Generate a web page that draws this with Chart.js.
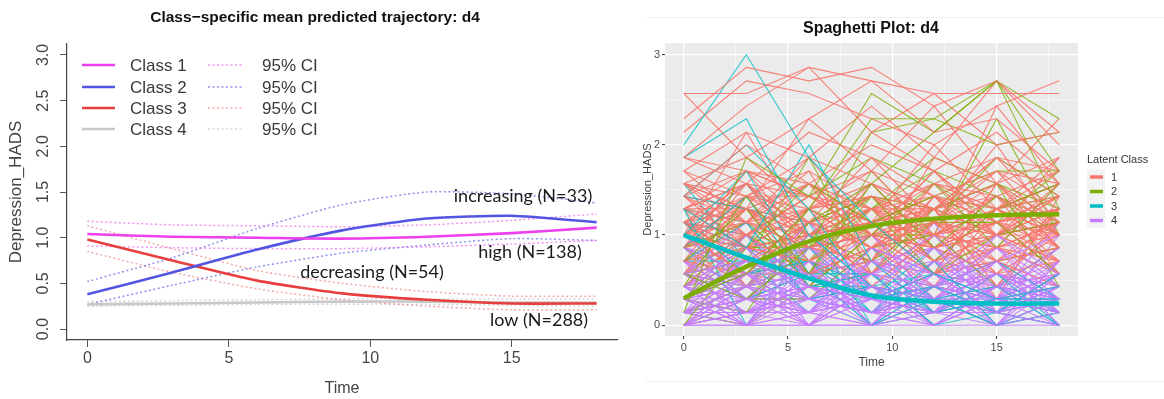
<!DOCTYPE html>
<html><head><meta charset="utf-8">
<script src="https://cdn.jsdelivr.net/npm/chart.js@4.4.1/dist/chart.umd.min.js"></script>
<style>
html,body{margin:0;padding:0;background:#fff;width:1164px;height:399px;overflow:hidden}
#c1{position:absolute;left:0;top:0}
#c2{position:absolute;left:620px;top:0}
</style></head><body>
<canvas id="c1" width="620" height="399"></canvas>
<canvas id="c2" width="544" height="399"></canvas>
<script>
// ---------- shared ----------
const time = [0, 3, 6, 9, 12, 15, 18];

// ---------- left panel: class-specific mean predicted trajectories ----------
const leftTitle = 'Class\u2212specific mean predicted trajectory: d4';
const leftXTicks = [0, 5, 10, 15];
const leftYTicks = [0, 0.5, 1, 1.5, 2, 2.5, 3];
const classNames = ['Class 1', 'Class 2', 'Class 3', 'Class 4'];
const ciName = '95% CI';

const class1Mean = [1.04, 1.01, 1.00, 0.99, 1.01, 1.05, 1.11];
const class1Lo   = [0.91, 0.89, 0.88, 0.88, 0.90, 0.93, 0.97];
const class1Hi   = [1.18, 1.14, 1.13, 1.12, 1.14, 1.19, 1.26];
const class2Mean = [0.38, 0.62, 0.87, 1.08, 1.21, 1.24, 1.17];
const class2Lo   = [0.27, 0.48, 0.68, 0.83, 0.92, 0.99, 0.97];
const class2Hi   = [0.52, 0.78, 1.10, 1.36, 1.50, 1.48, 1.38];
const class3Mean = [0.98, 0.75, 0.53, 0.39, 0.32, 0.28, 0.28];
const class3Lo   = [0.85, 0.62, 0.44, 0.32, 0.25, 0.21, 0.21];
const class3Hi   = [1.13, 0.88, 0.64, 0.50, 0.41, 0.36, 0.36];
const class4Mean = [0.27, 0.28, 0.29, 0.30, 0.30, 0.29, 0.29];
const class4Lo   = [0.25, 0.26, 0.27, 0.27, 0.27, 0.26, 0.25];
const class4Hi   = [0.30, 0.31, 0.32, 0.33, 0.33, 0.33, 0.33];

const annotLabels = ['increasing (N=33)', 'high (N=138)', 'decreasing (N=54)', 'low (N=288)'];

// ---------- right panel: spaghetti plot ----------
const rightTitle = 'Spaghetti Plot: d4';
const rightXTicks = [0, 2.5, 5, 7.5, 10, 12.5, 15, 17.5];
const rightYTicks = [0, 0.5, 1, 1.5, 2, 2.5, 3];
const latentLabels = ['1', '2', '3', '4'];

const spagClass1 = [
  [2.57, 2.57, 2.86, 2.71, 2.57, 2.57, 2.57],
  [2.29, 2.86, 2.71, 2.86, 2.43, 2.71, 2.14],
  [2.14, 2.71, 2.57, 2.29, 2.00, 2.43, 2.71],
  [1.86, 2.43, 2.86, 2.14, 2.57, 2.00, 2.14],
  [2.57, 1.86, 2.29, 2.71, 2.14, 2.29, 1.71],
  [1.71, 2.14, 1.86, 2.43, 1.86, 2.71, 2.00],
  [1.57, 1.29, 2.29, 1.71, 2.43, 1.57, 1.86],
  [1.43, 2.00, 1.57, 2.00, 1.71, 2.14, 1.57],
  [1.86, 1.57, 1.14, 1.86, 1.43, 1.71, 1.29],
  [1.29, 1.71, 1.43, 1.14, 2.00, 1.29, 1.43],
  [1.14, 1.43, 1.86, 1.57, 1.29, 1.86, 1.14],
  [1.57, 1.00, 1.29, 1.43, 1.14, 1.00, 1.57],
  [1.00, 1.57, 1.00, 1.29, 1.57, 1.43, 1.00],
  [1.43, 1.14, 1.57, 1.00, 0.86, 1.14, 1.29],
  [0.86, 1.29, 1.14, 0.86, 1.29, 1.57, 0.86],
  [1.29, 0.86, 0.71, 1.14, 1.00, 0.86, 1.14],
  [1.00, 1.14, 0.86, 0.71, 1.43, 1.29, 1.71],
  [0.71, 1.00, 1.43, 1.29, 0.71, 1.00, 1.00],
  [1.14, 0.71, 1.00, 0.57, 1.14, 0.71, 0.86],
  [0.57, 1.29, 0.86, 1.00, 0.57, 1.14, 1.43],
  [1.00, 0.57, 1.14, 1.57, 0.86, 0.57, 0.71],
  [0.86, 1.43, 0.57, 0.86, 1.14, 1.71, 1.00],
  [1.43, 0.86, 1.00, 1.14, 0.57, 0.86, 1.57],
  [0.71, 0.57, 1.29, 0.43, 1.00, 1.43, 0.57],
  [1.14, 1.57, 0.71, 1.00, 1.29, 0.57, 1.29],
  [0.43, 1.00, 0.57, 1.29, 0.86, 1.00, 0.71],
  [1.29, 1.14, 1.71, 0.57, 1.43, 0.86, 1.14],
  [1.57, 1.86, 1.29, 1.71, 1.00, 1.29, 0.86],
  [0.57, 0.71, 1.14, 0.86, 0.43, 1.29, 1.00],
  [1.00, 1.29, 0.43, 1.00, 1.71, 1.14, 0.57],
  [0.86, 0.43, 1.00, 1.43, 1.29, 0.43, 1.29],
  [1.71, 1.43, 1.14, 0.86, 1.57, 1.86, 1.43],
  [1.29, 1.57, 2.14, 1.86, 1.14, 1.43, 1.71],
  [0.71, 1.14, 1.57, 1.14, 0.71, 1.00, 1.86],
  [1.14, 0.86, 1.29, 2.14, 1.71, 1.00, 1.14],
  [0.43, 0.86, 0.71, 0.57, 1.00, 0.71, 0.43],
  [1.00, 2.14, 1.00, 1.43, 1.00, 2.43, 1.57],
  [1.43, 1.00, 0.57, 0.71, 1.86, 1.57, 2.29],
  [0.86, 1.71, 1.43, 1.00, 0.29, 0.86, 1.14],
  [1.57, 1.29, 1.00, 1.57, 1.14, 2.00, 1.00],
  [1.29, 0.43, 0.86, 1.29, 0.71, 1.29, 0.71],
  [1.00, 0.86, 1.29, 0.86, 1.29, 0.29, 1.43],
  [0.57, 1.43, 1.00, 0.29, 1.00, 1.14, 0.57],
  [1.14, 1.00, 0.43, 1.14, 0.57, 1.57, 0.86],
  [0.86, 1.14, 1.86, 1.00, 1.14, 0.71, 1.29],
  [1.14, 1.29, 1.00, 1.14, 1.29, 1.00, 1.14],
  [0.86, 1.00, 1.14, 1.29, 1.00, 1.14, 1.29],
  [1.29, 1.00, 1.43, 1.00, 0.86, 1.29, 1.00],
  [1.00, 1.43, 1.29, 0.86, 1.14, 1.00, 1.43],
  [0.71, 0.86, 1.00, 1.14, 1.43, 1.14, 0.86],
  [1.43, 1.29, 0.86, 1.29, 1.00, 1.43, 1.14],
  [1.14, 0.71, 1.14, 1.43, 0.71, 0.86, 1.00],
  [0.57, 1.00, 0.86, 0.71, 1.29, 1.00, 1.29],
  [1.29, 1.57, 1.43, 1.14, 1.57, 1.29, 1.57],
  [1.00, 0.86, 0.71, 1.00, 0.57, 0.71, 0.86],
  [1.57, 1.43, 1.71, 1.29, 1.43, 1.14, 1.00],
  [0.86, 1.14, 1.00, 0.57, 1.14, 1.57, 1.14],
  [1.14, 1.57, 0.86, 1.14, 1.00, 0.86, 0.71],
  [1.71, 1.14, 1.29, 1.57, 1.29, 1.71, 1.57],
  [0.43, 0.71, 1.14, 1.00, 0.86, 1.14, 1.29],
  [1.00, 1.00, 1.57, 1.29, 1.14, 0.57, 1.00],
  [1.29, 0.86, 1.00, 0.71, 1.57, 1.00, 0.71],
  [0.71, 1.29, 0.57, 1.14, 0.71, 1.29, 1.57],
  [1.43, 1.71, 1.14, 1.43, 0.86, 1.00, 1.29],
  [1.00, 0.57, 1.29, 0.86, 1.29, 1.43, 0.86],
  [0.86, 1.43, 1.43, 1.71, 1.43, 0.71, 1.14],
  [1.14, 1.00, 0.57, 0.86, 1.00, 1.29, 1.86],
  [0.57, 0.86, 1.29, 1.43, 1.14, 0.86, 0.57],
  [1.57, 1.14, 0.86, 1.00, 1.71, 1.14, 1.43],
  [1.29, 1.29, 1.57, 0.71, 0.57, 1.57, 1.00],
  [0.71, 1.57, 1.00, 1.29, 1.29, 0.43, 1.14],
  [1.00, 1.29, 0.71, 1.57, 0.86, 1.14, 0.71],
  [1.86, 1.71, 1.57, 1.14, 1.29, 1.86, 1.71],
  [1.14, 0.43, 1.14, 0.57, 1.43, 1.00, 1.43],
  [0.86, 1.71, 0.86, 1.00, 1.00, 1.29, 0.86]
];
const spagClass2 = [
  [0.29, 0.57, 1.29, 2.29, 2.29, 2.71, 2.29],
  [0.14, 1.86, 1.43, 2.57, 2.14, 2.71, 1.71],
  [0.57, 0.29, 0.86, 2.14, 2.29, 2.00, 2.14],
  [0.43, 1.43, 0.57, 1.57, 2.14, 2.71, 1.29],
  [0.00, 0.86, 1.57, 1.14, 1.43, 1.71, 1.71],
  [0.29, 0.14, 1.14, 1.57, 0.86, 1.43, 1.00],
  [0.71, 1.29, 0.43, 1.00, 1.57, 0.86, 1.57],
  [0.14, 0.43, 1.00, 0.71, 1.14, 1.14, 0.57],
  [0.43, 1.00, 0.71, 1.29, 0.57, 1.00, 1.14],
  [0.00, 0.29, 0.29, 0.86, 1.00, 0.43, 0.86],
  [0.57, 0.71, 1.86, 0.57, 1.29, 1.57, 0.43],
  [0.29, 0.57, 0.86, 1.43, 0.71, 1.29, 1.43],
  [0.86, 1.14, 0.57, 1.71, 1.00, 2.29, 1.00],
  [0.14, 0.00, 0.43, 0.57, 0.43, 0.71, 0.86],
  [0.43, 0.57, 1.14, 1.43, 1.29, 1.57, 1.29],
  [0.14, 0.43, 0.71, 1.14, 1.43, 1.29, 1.57],
  [0.29, 0.86, 1.00, 1.29, 1.71, 1.43, 1.14],
  [0.57, 0.43, 1.29, 1.00, 1.14, 1.86, 1.43],
  [0.00, 0.57, 0.57, 1.43, 1.29, 1.00, 1.29],
  [0.29, 1.00, 1.43, 1.86, 1.57, 1.14, 1.71],
  [0.71, 0.86, 0.86, 1.29, 1.86, 1.57, 1.14],
  [0.14, 0.29, 1.00, 1.00, 1.00, 1.29, 1.57]
];
const spagClass3 = [
  [2.00, 3.00, 1.86, 1.14, 0.57, 0.29, 0.43],
  [1.86, 2.29, 1.00, 0.43, 0.29, 0.00, 0.14],
  [1.43, 2.00, 1.29, 0.29, 0.43, 0.14, 0.00],
  [1.29, 0.86, 2.00, 0.71, 0.14, 0.29, 0.29],
  [1.00, 1.71, 0.57, 0.00, 0.29, 0.43, 0.14],
  [0.86, 1.43, 0.43, 0.57, 0.00, 0.14, 0.57],
  [1.14, 0.57, 0.71, 0.14, 0.71, 0.00, 0.29],
  [0.71, 1.14, 0.29, 0.43, 0.14, 0.57, 0.00],
  [1.29, 0.00, 0.86, 0.29, 0.57, 0.29, 0.43],
  [0.57, 0.71, 0.14, 0.86, 0.29, 0.00, 0.14],
  [1.43, 1.29, 1.14, 0.00, 0.43, 0.71, 0.29],
  [0.86, 0.29, 0.57, 0.57, 0.00, 0.43, 0.00],
  [1.00, 1.57, 0.71, 0.29, 0.86, 0.14, 0.57],
  [1.14, 0.86, 0.29, 0.14, 0.29, 0.29, 0.14],
  [1.00, 0.86, 0.57, 0.29, 0.14, 0.29, 0.29],
  [1.14, 1.00, 0.43, 0.43, 0.29, 0.14, 0.29],
  [0.86, 0.57, 0.86, 0.14, 0.43, 0.29, 0.14],
  [1.29, 1.14, 0.57, 0.57, 0.14, 0.43, 0.29],
  [0.71, 0.71, 0.43, 0.29, 0.29, 0.14, 0.43],
  [1.57, 0.71, 0.71, 0.43, 0.57, 0.29, 0.29],
  [0.57, 1.00, 0.29, 0.00, 0.14, 0.57, 0.14],
  [1.00, 0.43, 0.57, 0.71, 0.29, 0.00, 0.29]
];
const spagClass4 = [
  [0.00, 0.14, 0.00, 0.29, 0.14, 0.00, 0.14],
  [0.14, 0.43, 0.29, 0.14, 0.00, 0.29, 0.43],
  [0.29, 0.00, 0.57, 0.43, 0.29, 0.14, 0.00],
  [0.43, 0.29, 0.14, 0.57, 0.43, 0.57, 0.29],
  [0.57, 0.71, 0.43, 0.00, 0.57, 0.29, 0.14],
  [0.14, 0.57, 0.86, 0.29, 0.14, 0.43, 0.57],
  [0.29, 0.14, 0.29, 0.71, 0.29, 0.86, 0.29],
  [0.00, 0.29, 0.43, 0.14, 0.86, 0.14, 0.43],
  [0.43, 0.86, 0.00, 0.43, 0.29, 0.00, 0.71],
  [0.71, 0.29, 0.14, 0.29, 0.00, 0.43, 0.14],
  [0.14, 0.00, 0.71, 0.57, 0.43, 0.71, 0.00],
  [0.29, 0.57, 0.29, 0.00, 0.71, 0.29, 0.86],
  [0.57, 0.43, 1.00, 0.43, 0.14, 0.57, 0.29],
  [0.00, 0.14, 0.14, 0.86, 0.57, 0.00, 0.29],
  [0.86, 0.57, 0.57, 0.29, 0.43, 1.00, 0.57],
  [0.29, 1.00, 0.43, 0.14, 0.29, 0.14, 0.00],
  [0.43, 0.00, 0.29, 0.57, 1.00, 0.29, 0.43],
  [0.14, 0.29, 0.71, 0.00, 0.14, 0.71, 1.00],
  [0.00, 0.57, 0.14, 0.43, 0.00, 0.43, 0.14],
  [1.00, 0.43, 0.00, 0.71, 0.57, 0.14, 0.71],
  [0.29, 0.71, 0.57, 1.00, 0.29, 0.57, 0.29],
  [0.57, 0.14, 0.43, 0.29, 0.71, 0.00, 0.57],
  [0.14, 0.86, 0.29, 0.14, 0.43, 0.86, 0.14],
  [0.71, 0.00, 0.86, 0.57, 0.00, 0.29, 0.43],
  [0.00, 0.29, 0.00, 0.00, 0.29, 0.14, 0.00],
  [0.43, 0.57, 0.14, 0.86, 0.57, 0.43, 0.86],
  [0.29, 0.43, 1.14, 0.43, 0.86, 0.29, 0.14],
  [0.86, 0.29, 0.43, 0.14, 0.14, 0.57, 0.29],
  [0.14, 0.14, 0.57, 0.29, 0.43, 0.00, 0.71],
  [0.57, 1.14, 0.29, 0.57, 0.29, 0.71, 0.00],
  [0.00, 0.43, 0.71, 0.00, 0.71, 0.43, 0.29],
  [0.29, 0.00, 0.14, 0.71, 0.14, 1.00, 0.43],
  [0.43, 0.71, 0.43, 0.29, 1.14, 0.14, 0.57],
  [0.71, 0.57, 0.00, 0.43, 0.00, 0.29, 1.14],
  [0.14, 0.29, 0.86, 1.00, 0.43, 0.57, 0.14],
  [1.14, 0.86, 0.57, 0.14, 0.57, 0.86, 0.43],
  [0.29, 0.14, 0.29, 0.57, 0.86, 0.43, 0.86],
  [0.00, 0.00, 0.43, 0.14, 0.29, 0.29, 0.00],
  [0.00, 0.00, 0.00, 0.00, 0.00, 0.00, 0.00],
  [0.14, 0.14, 0.29, 0.14, 0.14, 0.29, 0.14],
  [0.29, 0.29, 0.14, 0.29, 0.43, 0.29, 0.29],
  [0.43, 0.14, 0.43, 0.29, 0.14, 0.43, 0.57],
  [0.00, 0.29, 0.14, 0.00, 0.29, 0.00, 0.29],
  [0.57, 0.29, 0.29, 0.43, 0.29, 0.57, 0.43],
  [0.14, 0.43, 0.00, 0.29, 0.57, 0.14, 0.00],
  [0.29, 0.57, 0.43, 0.14, 0.00, 0.29, 0.14],
  [0.71, 0.43, 0.57, 0.29, 0.43, 0.14, 0.29],
  [0.00, 0.14, 0.29, 0.43, 0.29, 0.57, 0.29],
  [0.43, 0.29, 0.57, 0.71, 0.43, 0.29, 0.57],
  [0.14, 0.00, 0.14, 0.00, 0.14, 0.14, 0.43],
  [0.29, 0.43, 0.29, 0.57, 0.00, 0.43, 0.29],
  [0.57, 0.14, 0.71, 0.29, 0.29, 0.00, 0.14],
  [0.00, 0.57, 0.29, 0.14, 0.43, 0.29, 0.71],
  [0.86, 0.71, 0.43, 0.57, 0.71, 0.57, 0.43],
  [0.29, 0.00, 0.00, 0.43, 0.14, 0.71, 0.29],
  [0.43, 0.86, 0.29, 0.29, 0.57, 0.43, 0.00],
  [0.14, 0.29, 0.57, 0.14, 0.71, 0.29, 0.57],
  [0.00, 0.14, 0.43, 0.57, 0.29, 0.14, 0.29],
  [0.57, 0.43, 0.14, 0.29, 0.14, 0.43, 0.86],
  [0.29, 0.71, 0.86, 0.43, 0.29, 0.00, 0.43],
  [0.71, 0.29, 0.29, 0.86, 0.57, 0.71, 0.14],
  [0.14, 0.57, 0.14, 0.71, 0.86, 0.57, 0.29],
  [0.43, 0.00, 0.57, 0.00, 0.43, 0.86, 0.57],
  [1.00, 0.57, 0.71, 0.43, 0.29, 0.43, 0.29],
  [0.29, 0.14, 0.43, 0.29, 0.57, 0.14, 1.00],
  [0.00, 0.43, 0.57, 0.86, 0.14, 0.29, 0.14],
  [0.57, 1.00, 0.29, 0.14, 0.43, 0.71, 0.43],
  [0.14, 0.29, 0.00, 0.57, 1.00, 0.43, 0.71]
];
const spagMean2 = [0.30, 0.65, 0.93, 1.10, 1.18, 1.22, 1.23];
const spagMean3 = [1.00, 0.75, 0.52, 0.33, 0.26, 0.24, 0.24];

// ---------- helpers ----------
const pts = v => v.map((y, i) => ({ x: time[i], y }));
const F = 'Liberation Sans, Arial, sans-serif';

// ===== LEFT CHART =====
// (Chart.js draws lower "order" values on top)
const lCol = ['rgb(236,64,236)', 'rgb(84,84,226)', 'rgb(232,62,62)', 'rgb(200,200,200)'];
const lCi  = ['rgba(240,110,240,0.75)', 'rgba(110,110,236,0.75)', 'rgba(240,110,110,0.6)', 'rgba(205,205,205,0.8)'];
const means = [class1Mean, class2Mean, class3Mean, class4Mean];
const los = [class1Lo, class2Lo, class3Lo, class4Lo];
const his = [class1Hi, class2Hi, class3Hi, class4Hi];

const leftSets = [];
[0, 1, 2, 3].forEach(k => {
  leftSets.push({ label: ciName, data: pts(los[k]), borderColor: lCi[k], borderWidth: 1.5, borderDash: [2, 2.5], tension: 0.2, order: 10 + k });
  leftSets.push({ label: ciName, data: pts(his[k]), borderColor: lCi[k], borderWidth: 1.5, borderDash: [2, 2.5], tension: 0.2, order: 10 + k });
  leftSets.push({ label: classNames[k], data: pts(means[k]), borderColor: lCol[k], borderWidth: 2.6, tension: 0.2, order: k });
});

const leftDecor = {
  id: 'leftDecor',
  afterDraw(chart) {
    const ctx = chart.ctx;
    ctx.save();
    ctx.fillStyle = '#111';
    ctx.font = 'bold 15.5px ' + F;
    ctx.textAlign = 'center'; ctx.textBaseline = 'middle';
    ctx.fillText(leftTitle, 315, 18);
    const rows = [65, 87, 108, 129];
    ctx.font = '17px ' + F;
    ctx.textAlign = 'left';
    rows.forEach((y, k) => {
      ctx.strokeStyle = lCol[k]; ctx.lineWidth = 2.6; ctx.setLineDash([]);
      ctx.beginPath(); ctx.moveTo(82, y); ctx.lineTo(115, y); ctx.stroke();
      ctx.strokeStyle = lCi[k]; ctx.lineWidth = 1.5; ctx.setLineDash([2, 2.5]);
      ctx.beginPath(); ctx.moveTo(208, y); ctx.lineTo(243, y); ctx.stroke();
      ctx.setLineDash([]);
      ctx.fillStyle = '#3a3a3a';
      ctx.fillText(classNames[k], 130, y + 1);
      ctx.fillText(ciName, 262, y + 1);
    });
    ctx.font = '18px Lato, "Open Sans", sans-serif';
    ctx.fillStyle = '#1a1a1a';
    ctx.textAlign = 'center';
    const ann = [[523, 196], [530, 252], [372, 272], [539, 320]];
    ann.forEach((p, i) => ctx.fillText(annotLabels[i], p[0], p[1]));
    ctx.restore();
  }
};

new Chart(document.getElementById('c1'), {
  type: 'line',
  data: { datasets: leftSets },
  options: {
    responsive: false, animation: false, devicePixelRatio: 1,
    layout: { padding: { left: 0, right: 3, top: 44, bottom: 0 } },
    plugins: { legend: { display: false }, tooltip: { enabled: false } },
    elements: { point: { radius: 0 } },
    scales: {
      x: {
        type: 'linear', min: -0.72, max: 18.72,
        afterBuildTicks: s => { s.ticks = leftXTicks.map(v => ({ value: v })); },
        afterFit: s => { s.height = 59; },
        grid: { drawOnChartArea: false, drawTicks: true, tickLength: 7, color: '#555', lineWidth: 1 },
        border: { display: true, color: '#444', width: 1.2 },
        ticks: { font: { family: F, size: 16 }, color: '#444', padding: 2, maxRotation: 0, autoSkip: false },
        title: { display: true, text: 'Time', font: { family: F, size: 16 }, color: '#444', padding: { top: 0, bottom: 1 } }
      },
      y: {
        type: 'linear', min: -0.12, max: 3.12,
        afterBuildTicks: s => { s.ticks = leftYTicks.map(v => ({ value: v })); },
        afterFit: s => { s.width = 67; },
        grid: { drawOnChartArea: false, drawTicks: true, tickLength: 7, color: '#555', lineWidth: 1 },
        border: { display: true, color: '#444', width: 1.2 },
        ticks: { font: { family: F, size: 16 }, color: '#444', padding: 5, minRotation: 90, maxRotation: 90, crossAlign: 'center',
                 callback: v => Number(v).toFixed(1) },
        title: { display: true, text: 'Depression_HADS', font: { family: F, size: 17 }, color: '#444', padding: { top: 6, bottom: 0 } }
      }
    }
  },
  plugins: [leftDecor]
});

// ===== RIGHT CHART =====
const gg = ['#F8766D', '#7CAE00', '#00BFC4', '#C77CFF'];
const ggA = ['rgba(248,118,109,0.9)', 'rgba(124,174,0,0.8)', 'rgba(0,191,196,0.8)', 'rgba(199,124,255,0.9)'];
const rightSets = [];
// interleave the drawing order of the subjects' lines across classes
const addGroup = (rows, k) => rows.forEach((r, i) => rightSets.push({
  data: pts(r), borderColor: ggA[k], borderWidth: 1.1, tension: 0, order: 10 + 100 * (i + 0.5) / rows.length + k * 0.1
}));
addGroup(spagClass1, 0);
addGroup(spagClass2, 1);
addGroup(spagClass3, 2);
addGroup(spagClass4, 3);
rightSets.push({ data: pts(spagMean2), borderColor: gg[1], borderWidth: 4.5, tension: 0.35, order: 1 });
rightSets.push({ data: pts(spagMean3), borderColor: gg[2], borderWidth: 4.5, tension: 0.35, order: 0 });

const rightDecor = {
  id: 'rightDecor',
  beforeDraw(chart) {
    const { ctx, chartArea: a } = chart;
    ctx.save();
    ctx.fillStyle = '#EBEBEB';
    ctx.fillRect(a.left, a.top, a.right - a.left, a.bottom - a.top);
    ctx.strokeStyle = '#F0F0F0'; ctx.lineWidth = 1;
    ctx.beginPath(); ctx.moveTo(27, 17.5); ctx.lineTo(544, 17.5); ctx.stroke();
    ctx.beginPath(); ctx.moveTo(25, 381.5); ctx.lineTo(544, 381.5); ctx.stroke();
    ctx.restore();
  },
  afterDraw(chart) {
    const ctx = chart.ctx;
    ctx.save();
    ctx.fillStyle = '#111';
    ctx.font = 'bold 16px ' + F;
    ctx.textAlign = 'center'; ctx.textBaseline = 'middle';
    ctx.fillText(rightTitle, 251, 29);
    ctx.textAlign = 'left';
    ctx.font = '11px ' + F;
    ctx.fillStyle = '#333';
    ctx.fillText('Latent Class', 467, 160);
    const rows = [177, 191.5, 206, 220.5];
    ctx.fillStyle = '#F2F2F2';
    ctx.fillRect(467, 169.5, 18, 58.5);
    rows.forEach((y, k) => {
      ctx.strokeStyle = gg[k]; ctx.lineWidth = 3.5;
      ctx.beginPath(); ctx.moveTo(470, y); ctx.lineTo(483, y); ctx.stroke();
      ctx.fillStyle = '#333';
      ctx.fillText(latentLabels[k], 491, y + 0.5);
    });
    ctx.restore();
  }
};

const isMajorX = v => Math.abs(v % 5) < 1e-9;
const isMajorY = v => Math.abs(v % 1) < 1e-9;

new Chart(document.getElementById('c2'), {
  type: 'line',
  data: { datasets: rightSets },
  options: {
    responsive: false, animation: false, devicePixelRatio: 1,
    layout: { padding: { left: 0, right: 86, top: 43, bottom: 0 } },
    plugins: { legend: { display: false }, tooltip: { enabled: false } },
    elements: { point: { radius: 0 } },
    scales: {
      x: {
        type: 'linear', min: -0.9, max: 18.9,
        afterBuildTicks: s => { s.ticks = rightXTicks.map(v => ({ value: v })); },
        afterFit: s => { s.height = 63; },
        grid: { color: '#FFFFFF', lineWidth: c => isMajorX(c.tick.value) ? 1.2 : 0.5, drawTicks: true, tickLength: 3,
                tickColor: c => isMajorX(c.tick.value) ? '#333' : 'rgba(0,0,0,0)', tickWidth: 1 },
        border: { display: false },
        ticks: { font: { family: F, size: 11 }, color: '#4D4D4D', padding: 2, maxRotation: 0, autoSkip: false,
                 callback: v => isMajorX(v) ? String(v) : '' },
        title: { display: true, text: 'Time', font: { family: F, size: 12 }, color: '#444', padding: { top: 0, bottom: 29 } }
      },
      y: {
        type: 'linear', min: -0.12, max: 3.13,
        afterBuildTicks: s => { s.ticks = rightYTicks.map(v => ({ value: v })); },
        afterFit: s => { s.width = 45; },
        grid: { color: '#FFFFFF', lineWidth: c => isMajorY(c.tick.value) ? 1.2 : 0.5, drawTicks: true, tickLength: 3,
                tickColor: c => isMajorY(c.tick.value) ? '#333' : 'rgba(0,0,0,0)', tickWidth: 1 },
        border: { display: false },
        ticks: { font: { family: F, size: 11 }, color: '#4D4D4D', padding: 2, autoSkip: false,
                 callback: v => isMajorY(v) ? String(v) : '' },
        title: { display: true, text: 'Depression_HADS', font: { family: F, size: 11 }, color: '#444', padding: { top: 21, bottom: 0 } }
      }
    }
  },
  plugins: [rightDecor]
});
</script>
</body></html>
